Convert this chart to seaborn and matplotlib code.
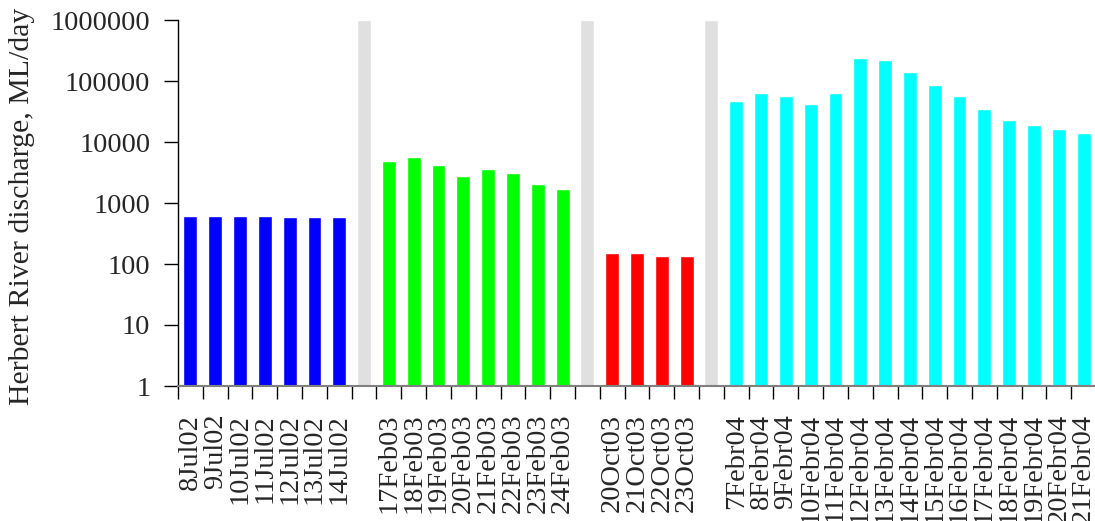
import numpy as np
import pandas as pd
import matplotlib
matplotlib.use("Agg")
import matplotlib.pyplot as plt
from matplotlib.ticker import FixedLocator, FixedFormatter, NullLocator
import seaborn as sns

# Daily discharge of the Herbert River (ML/day) for four sampling periods
jul02_dates = ["8Jul02", "9Jul02", "10Jul02", "11Jul02", "12Jul02", "13Jul02", "14Jul02"]
jul02_flow = [620, 620, 620, 620, 600, 600, 600]

feb03_dates = ["17Feb03", "18Feb03", "19Feb03", "20Feb03", "21Feb03", "22Feb03", "23Feb03", "24Feb03"]
feb03_flow = [4900, 5700, 4200, 2800, 3600, 3100, 2050, 1700]

oct03_dates = ["20Oct03", "21Oct03", "22Oct03", "23Oct03"]
oct03_flow = [150, 150, 135, 135]

feb04_dates = ["7Febr04", "8Febr04", "9Febr04", "10Febr04", "11Febr04", "12Febr04", "13Febr04",
               "14Febr04", "15Febr04", "16Febr04", "17Febr04", "18Febr04", "19Febr04",
               "20Febr04", "21Febr04"]
feb04_flow = [47000, 63500, 57000, 42000, 63500, 238000, 221000, 140000, 86000,
              56000, 34700, 22900, 19000, 16300, 14000]

# Full-height shaded bars separating the periods
separator_value = 1_000_000

periods = ["Jul02", "Feb03", "Oct03", "Feb04"]
period_dates = [jul02_dates, feb03_dates, oct03_dates, feb04_dates]
period_flows = [jul02_flow, feb03_flow, oct03_flow, feb04_flow]
period_colors = {"Jul02": "#0000FF", "Feb03": "#00FF00", "Oct03": "#FF0000",
                 "Feb04": "#00FFFF", "gap": "#E0E0E0"}

rows = []
for i, (p, dates, flows) in enumerate(zip(periods, period_dates, period_flows)):
    if i > 0:
        rows.append({"label": "", "flow": separator_value, "period": "gap", "key": f"gap{i}"})
    for d, f in zip(dates, flows):
        rows.append({"label": d, "flow": f, "period": p, "key": d})
df = pd.DataFrame(rows)

sns.set_style("white")
plt.rcParams["font.family"] = ["Liberation Serif", "DejaVu Serif"]

fig = plt.figure(figsize=(10.95, 5.21), dpi=100)
ax = fig.add_axes([178 / 1095, 1 - 386 / 521, (1096 - 178) / 1095, (386 - 20) / 521])

sns.barplot(data=df, x="key", y="flow", hue="period", palette=period_colors,
            order=list(df["key"]), dodge=False, width=0.56, saturation=1,
            legend=False, ax=ax, errorbar=None)

n = len(df)
ax.set_yscale("log")
ax.set_xlim(-0.5, n - 0.5)
ax.set_ylim(1, 1_000_000)

# y axis: decades with plain integer labels
yt = [1, 10, 100, 1000, 10000, 100000, 1000000]
ax.yaxis.set_major_locator(FixedLocator(yt))
ax.yaxis.set_major_formatter(FixedFormatter([str(v) for v in yt]))
ax.yaxis.set_minor_locator(NullLocator())
ax.tick_params(axis="y", which="major", direction="out", length=10, width=1,
               color="black", labelsize=20.5, pad=10, left=True)

# x axis: labels at bar centres, tick marks at slot boundaries
ax.set_xticks(np.arange(n))
ax.set_xticklabels(df["label"], rotation=90, ha="center", va="top",
                   rotation_mode="default")
ax.set_xticks(np.arange(n + 1) - 0.5, minor=True)
ax.tick_params(axis="x", which="major", length=0, labelsize=20.5, pad=20)
ax.tick_params(axis="x", which="minor", direction="out", length=9, width=1,
               color="black", bottom=True)

ax.set_xlabel("")
ax.set_ylabel("Herbert River discharge, ML/day", fontsize=21.5)
ax.yaxis.set_label_coords(-0.156, 0.49)

for s in ("top", "right"):
    ax.spines[s].set_visible(False)
ax.spines["left"].set_color("black")
ax.spines["left"].set_linewidth(1)
ax.spines["bottom"].set_color("#808080")
ax.spines["bottom"].set_linewidth(1.5)

fig.savefig("out.png", dpi=100, facecolor="white")
